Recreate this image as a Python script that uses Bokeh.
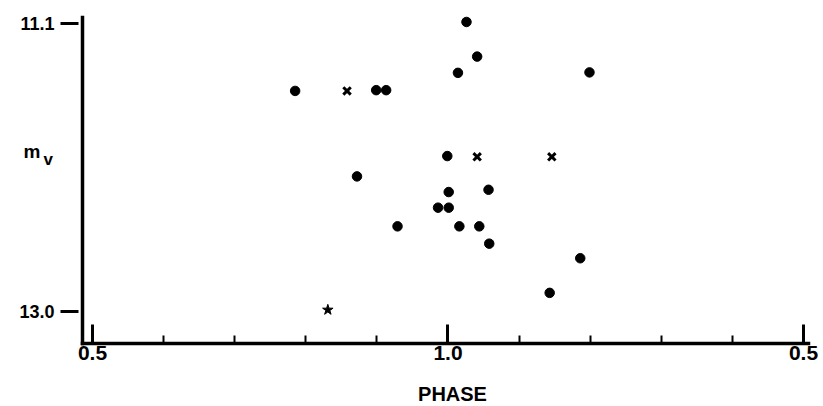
from bokeh.plotting import figure
from bokeh.models import Range1d, FixedTicker, CustomJSTickFormatter, Label
from bokeh.embed import file_html
from bokeh.resources import INLINE

# ---- data (phase, apparent visual magnitude) ----
circle_phase = [1.026, 1.041, 1.014, 1.199, 0.785, 0.899, 0.913, 0.999, 0.872,
                1.001, 1.057, 0.986, 1.001, 0.929, 1.016, 1.044, 1.058, 1.186, 1.143]
circle_mag = [11.09, 11.318, 11.425, 11.422, 11.544, 11.539, 11.539, 11.973, 12.107,
              12.210, 12.195, 12.313, 12.313, 12.436, 12.436, 12.436, 12.550, 12.646, 12.874]

cross_phase = [0.858, 1.041, 1.146]
cross_mag = [11.544, 11.978, 11.978]

star_phase = [0.831]
star_mag = [12.986]

x_major_ticks = [0.5, 1.0, 1.5]
x_minor_ticks = [0.6, 0.7, 0.8, 0.9, 1.1, 1.2, 1.3, 1.4]
y_ticks = [11.1, 13.0]

# axis extents (data units)
x_axis_start, x_axis_end = 0.48594, 1.50703
y_axis_top, y_axis_bottom = 11.06049, 13.20745

x_title = "PHASE"
y_title_main = "m"
y_title_sub = "v"

FONT = "Liberation Sans"

p = figure(width=823, height=406, output_backend="svg", toolbar_location=None,
           x_range=Range1d(0.37061, 1.52813), y_range=Range1d(13.62237, 10.94853),
           min_border_left=0, min_border_right=0, min_border_top=0, min_border_bottom=0)

p.outline_line_color = None
p.grid.visible = False
p.background_fill_color = "white"
p.border_fill_color = "white"

# y axis
ya = p.yaxis[0]
ya.fixed_location = x_axis_start
ya.bounds = (y_axis_top, y_axis_bottom)
ya.ticker = FixedTicker(ticks=y_ticks)
ya.formatter = CustomJSTickFormatter(code="return tick.toFixed(1);")
ya.axis_line_width = 3.5
ya.axis_line_color = "black"
ya.axis_line_cap = "square"
ya.major_tick_in = -4
ya.major_tick_out = 22
ya.major_tick_line_width = 3
ya.minor_tick_in = 0
ya.minor_tick_out = 0
ya.major_label_standoff = 6
ya.major_label_text_font = FONT
ya.major_label_text_font_style = "bold"
ya.major_label_text_font_size = "18px"
ya.major_label_text_color = "black"

# x axis
xa = p.xaxis[0]
xa.fixed_location = y_axis_bottom
xa.bounds = (x_axis_start, x_axis_end)
xa.ticker = FixedTicker(ticks=x_major_ticks, minor_ticks=x_minor_ticks)
xa.formatter = CustomJSTickFormatter(
    code="return (tick > 1.0001 ? tick - 1 : tick).toFixed(1);")
xa.axis_line_width = 3.5
xa.axis_line_color = "black"
xa.axis_line_cap = "square"
xa.major_tick_in = 19
xa.major_tick_out = 0
xa.major_tick_line_width = 3
xa.minor_tick_in = 8
xa.minor_tick_out = 0
xa.minor_tick_line_width = 2
xa.minor_tick_line_color = "black"
xa.major_label_standoff = 3
xa.major_label_text_font = FONT
xa.major_label_text_font_style = "bold"
xa.major_label_text_font_size = "21px"
xa.major_label_text_color = "black"

# markers
p.scatter(circle_phase, circle_mag, marker="circle", size=9.5,
          fill_color="black", line_color="black")
p.scatter(cross_phase, cross_mag, marker="x", size=10.5,
          line_color="black", line_width=3)
p.scatter(star_phase, star_mag, marker="star", size=11,
          fill_color="black", line_color="black")

# titles
p.add_layout(Label(x=452, y=13, x_units="screen", y_units="screen",
                   text=x_title, text_align="center", text_baseline="alphabetic",
                   text_font=FONT, text_font_style="bold", text_font_size="20px",
                   text_color="black"))
p.add_layout(Label(x=23, y=255, x_units="screen", y_units="screen",
                   text=y_title_main, text_align="left", text_baseline="alphabetic",
                   text_font=FONT, text_font_style="bold", text_font_size="19px",
                   text_color="black"))
p.add_layout(Label(x=43, y=247, x_units="screen", y_units="screen",
                   text=y_title_sub, text_align="left", text_baseline="alphabetic",
                   text_font=FONT, text_font_style="bold", text_font_size="17px",
                   text_color="black"))

open("out.html", "w").write(file_html(p, INLINE))
